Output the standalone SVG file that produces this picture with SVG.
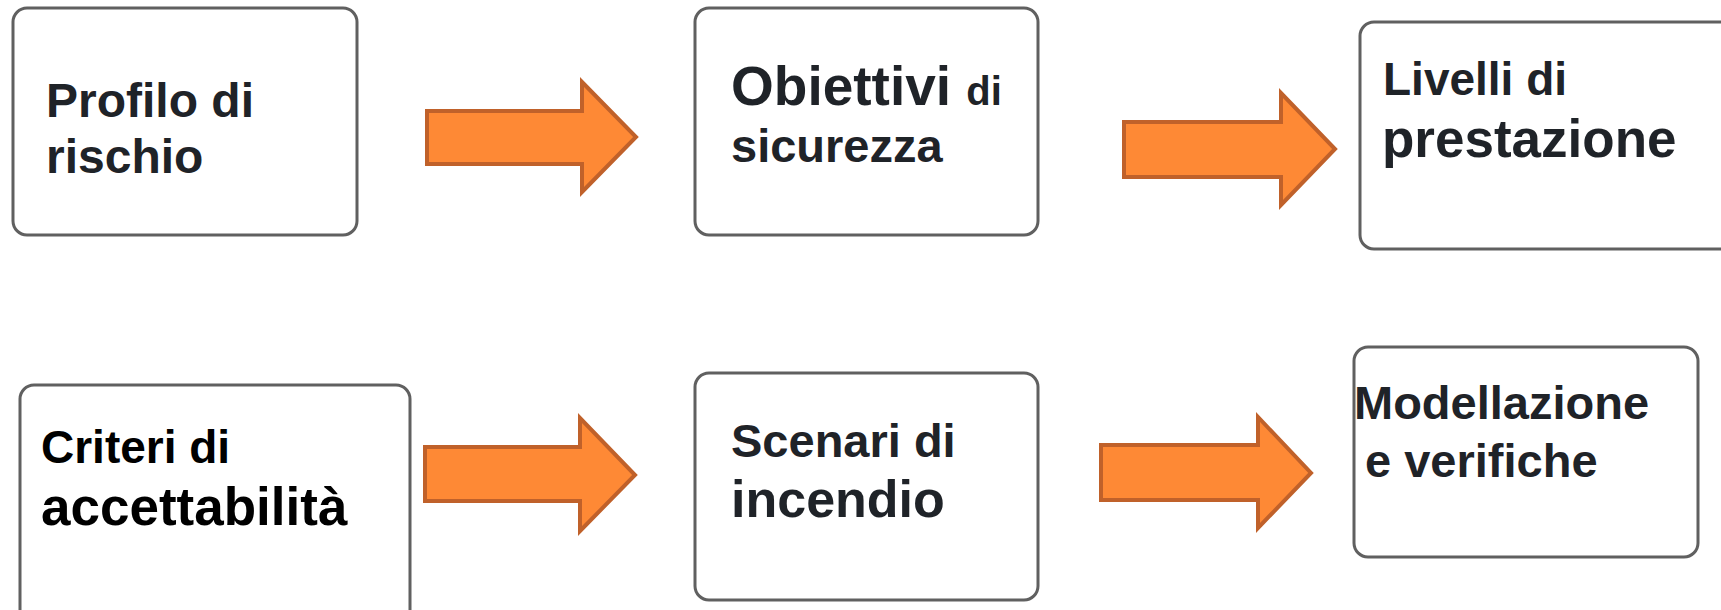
<svg xmlns="http://www.w3.org/2000/svg" width="1721" height="610" viewBox="0 0 1721 610">
<style>
.box{fill:#ffffff;stroke:#606060;stroke-width:3}
.t{font-family:"Liberation Sans",Arial,sans-serif;font-weight:bold;fill:#1f2328}
.k{fill:#000000}
.arr{fill:#fe8935;stroke:#c0612a;stroke-width:4;stroke-linejoin:miter}
</style>
<rect width="1721" height="610" fill="#ffffff"/>
<g id="connectors">
<polygon class="arr" points="427,111 582,111 582,82 636,137 582,192 582,164 427,164"/>
<polygon class="arr" points="1124,122 1281,122 1281,93 1335,149 1281,205 1281,177 1124,177"/>
<polygon class="arr" points="425,447 580,447 580,418 635,475 580,531 580,501 425,501"/>
<polygon class="arr" points="1101,445 1258,445 1258,417 1311,473 1258,528 1258,500 1101,500"/>
</g>
<g id="profilo">
<rect class="box" x="13" y="8" width="344" height="227" rx="14"/>
<text class="t" x="46" y="117" font-size="48">Profilo di</text>
<text class="t" x="46" y="173" font-size="48">rischio</text>
</g>
<g id="obiettivi">
<rect class="box" x="695" y="8" width="343" height="227" rx="14"/>
<text class="t" x="731" y="105" font-size="55">Obiettivi <tspan font-size="40">di</tspan></text>
<text class="t" x="731" y="162" font-size="47">sicurezza</text>
</g>
<g id="livelli">
<rect class="box" x="1360" y="22" width="380" height="227" rx="14"/>
<text class="t" x="1383" y="95" font-size="46">Livelli di</text>
<text class="t" x="1382" y="157" font-size="53">prestazione</text>
</g>
<g id="criteri">
<rect class="box" x="20" y="385" width="390" height="240" rx="14"/>
<text class="t k" x="41" y="463" font-size="46">Criteri di</text>
<text class="t k" x="41" y="525" font-size="53">accettabilità</text>
</g>
<g id="scenari">
<rect class="box" x="695" y="373" width="343" height="227" rx="14"/>
<text class="t" x="731" y="457" font-size="47">Scenari di</text>
<text class="t" x="731" y="517" font-size="52">incendio</text>
</g>
<g id="modellazione">
<rect class="box" x="1354" y="347" width="344" height="210" rx="14"/>
<text class="t" x="1354" y="419" font-size="47">Modellazione</text>
<text class="t" x="1365" y="477" font-size="47">e verifiche</text>
</g>
</svg>
